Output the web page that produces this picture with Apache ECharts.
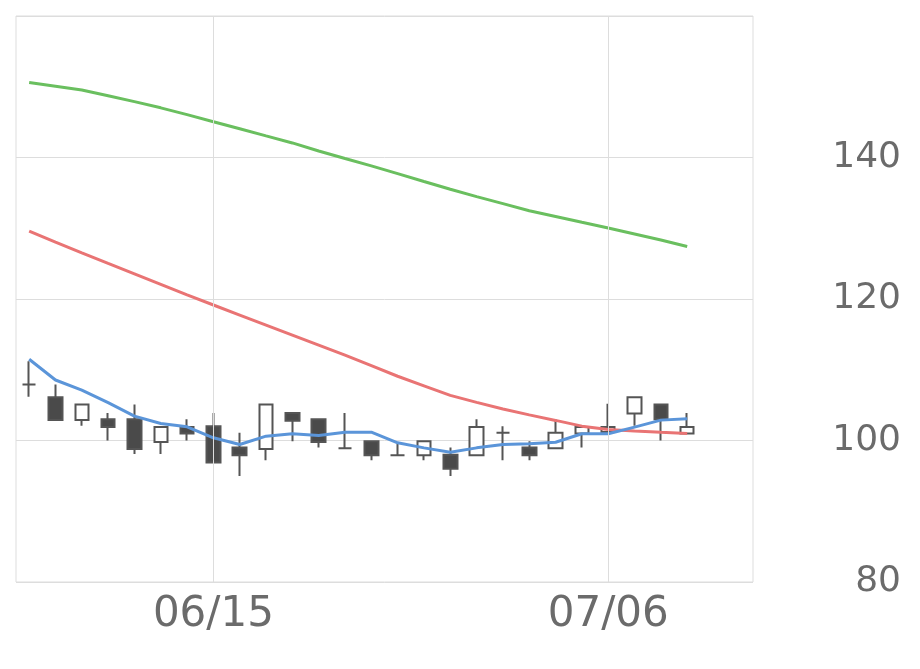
<!DOCTYPE html>
<html>
<head>
<meta charset="utf-8">
<script src="https://cdn.jsdelivr.net/npm/echarts@6/dist/echarts.min.js"></script>
<style>html,body{margin:0;padding:0;background:#fff}#c{width:920px;height:669px}</style>
</head>
<body>
<div id="c"></div>
<script>
const dates = ['06/04','06/05','06/08','06/09','06/10','06/11','06/12','06/15','06/16','06/17','06/18','06/19','06/22','06/23','06/24','06/25','06/26','06/29','06/30','07/01','07/02','07/03','07/06','07/07','07/08','07/09','07/10','07/13'];
const shownLabels = ['06/15','07/06'];
const openVals  = [107.9,106.1,102.9,103.0,103.0, 99.8,101.9,102.0, 99.0, 98.8,103.9,103.0, 98.9, 99.9, 97.9, 97.9, 98.0, 97.9,101.1, 99.0, 98.9,101.0,101.2,103.8,105.1,101.0];
const closeVals = [107.9,102.9,105.1,101.9, 98.8,101.9,101.0, 96.9, 97.9,105.1,102.8, 99.8, 98.9, 97.9, 97.9, 99.9, 96.0,101.9,101.1, 97.9,101.1,101.9,101.9,106.1,103.0,101.9];
const lowVals   = [106.2,102.9,102.1,100.0, 98.1, 98.1,100.0, 96.9, 95.0, 97.2, 99.9, 99.0, 98.9, 97.2, 97.9, 97.2, 95.0, 97.9, 97.2, 97.2, 98.9, 99.0,101.2,102.1,100.0,101.0];
const highVals  = [111.2,107.9,105.1,103.9,105.1,101.9,103.0,103.9,101.1,105.1,103.9,103.0,103.9, 99.9, 99.5, 99.9, 99.0,103.0,102.0, 99.9,103.0,101.9,105.2,106.1,105.1,103.9];
const ma5  = [111.49,108.55,107.13,105.35,103.45,102.41,101.94,100.38,99.43,100.61,100.95,100.71,101.18,101.18,99.67,98.96,98.34,98.96,99.43,99.53,99.76,100.95,100.95,101.89,102.88,103.08];
const ma25 = [129.60,128.04,126.52,125.03,123.55,122.06,120.57,119.15,117.73,116.31,114.89,113.48,112.06,110.57,109.08,107.73,106.38,105.39,104.45,103.62,102.84,102.03,101.56,101.35,101.16,100.99];
const ma75 = [150.59,150.07,149.54,148.74,147.90,147.02,146.06,145.06,144.06,143.05,142.06,140.92,139.86,138.82,137.72,136.61,135.52,134.47,133.48,132.48,131.67,130.84,130.03,129.18,128.33,127.42];
const yTicks = {min: 80, max: 160, interval: 20};

const candleData = openVals.map((o, i) => [o, closeVals[i], lowVals[i], highVals[i]]);
const chart = echarts.init(document.getElementById('c'));
const lineSeries = (name, data, color) => ({
  name, type: 'line', data, showSymbol: false, symbol: 'none', smooth: false,
  lineStyle: {color, width: 3}, itemStyle: {color}, z: 3, animation: false
});
chart.setOption({
  animation: false,
  grid: {left: 16, top: 16, right: 167, bottom: 87, show: true, borderColor: '#dddddd', borderWidth: 1, backgroundColor: 'transparent'},
  xAxis: {
    type: 'category', data: dates, boundaryGap: true,
    axisLine: {show: false}, axisTick: {show: false},
    splitLine: {show: false},
    axisLabel: {
      interval: (idx, val) => shownLabels.includes(val),
      fontFamily: 'DejaVu Sans', fontSize: 42, color: '#6b6b6b', margin: 12
    }
  },
  yAxis: {
    type: 'value', position: 'right', min: yTicks.min, max: yTicks.max, interval: yTicks.interval,
    axisLine: {show: false}, axisTick: {show: false},
    splitLine: {lineStyle: {color: '#dddddd', width: 1}},
    axisLabel: {
      showMaxLabel: false,
      formatter: v => (v >= yTicks.max ? '' : String(v)),
      fontFamily: 'DejaVu Sans', fontSize: 36, color: '#6b6b6b', align: 'right', margin: 148,
      padding: [0, 0, 8, 0]
    }
  },
  series: [
    {
      type: 'candlestick', data: candleData, barWidth: 14, z: 2,
      itemStyle: {color: '#ffffff', color0: '#4a4a4a', borderColor: '#555555', borderColor0: '#555555', borderWidth: 2},
      markLine: {
        silent: true, symbol: ['none', 'none'], label: {show: false},
        lineStyle: {color: '#dddddd', width: 1, type: 'solid'},
        data: shownLabels.map(d => ({xAxis: d}))
      }
    },
    lineSeries('MA75', ma75, '#6abf5f'),
    lineSeries('MA25', ma25, '#e97474'),
    lineSeries('MA5', ma5, '#5b95d9')
  ]
});
</script>
</body>
</html>
